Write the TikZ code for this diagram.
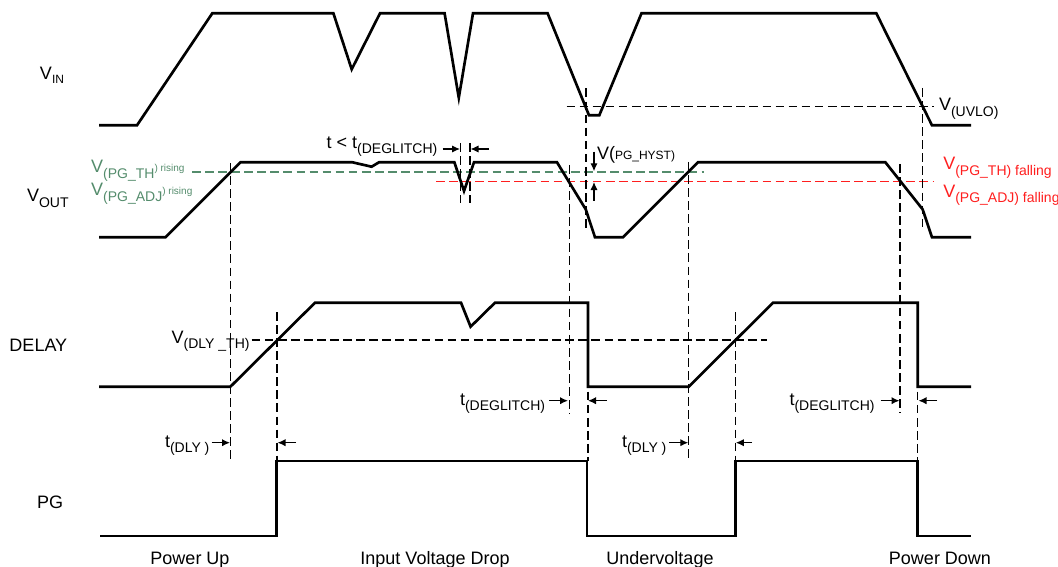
\documentclass[tikz,border=0pt]{standalone}
\usepackage{fontspec}
\setmainfont{Liberation Sans}
\usetikzlibrary{arrows.meta}
\definecolor{pggreen}{RGB}{84,140,108}
\definecolor{pgred}{RGB}{255,30,30}
\newcommand{\mainsz}{\fontsize{13.5}{16}\selectfont}
\newcommand{\subsz}{\fontsize{10.5}{12}\selectfont}
\newcommand{\tinysz}{\fontsize{7.5}{9}\selectfont}
\newcommand{\mysub}[1]{\raisebox{-4pt}{\subsz #1}}
\begin{document}
\begin{tikzpicture}[x=0.75pt,y=-0.75pt,
  wave/.style={line width=2pt,line join=miter,line cap=butt},
  dline/.style={line width=1pt,dash pattern=on 6.5pt off 3.3pt},
  arr/.style={line width=1pt,-{Latex[length=6pt,width=5.5pt]}},
  lbl/.style={inner sep=0pt,outer sep=0pt,anchor=base west,font=\mainsz},
  clbl/.style={inner sep=0pt,outer sep=0pt,anchor=base,font=\mainsz}]
\useasboundingbox (0,0) rectangle (1058,567);
% ---------- dashed reference lines ----------
\draw[dline] (566.5,106.7) -- (934,106.7);
\draw[dline,pggreen] (192,172) -- (704,172);
\draw[dline,pgred] (436,181.3) -- (934,181.3);
\draw[dline] (251.7,340) -- (766.5,340);
% vertical
\draw[dline] (230.4,163) -- (230.4,461.7);
\draw[dline] (277,312) -- (277,461);
\draw[dline] (460.7,143) -- (460.7,203);
\draw[dline] (470,143) -- (470,203);
\draw[dline] (569.5,165) -- (569.5,414);
\draw[dline] (586,88.5) -- (586,231);
\draw[dline] (588,391.7) -- (588,461);
\draw[dline] (688.8,162) -- (688.8,461.7);
\draw[dline] (735.4,312) -- (735.4,461);
\draw[dline] (900,164) -- (900,413);
\draw[dline] (917.8,391.7) -- (917.8,461);
\draw[dline] (922.6,88) -- (922.6,231);
% ---------- waveforms ----------
\draw[wave] (99,125.3) -- (137,125.3) -- (212.3,13.3) -- (333.4,13.3) -- (351.7,69.3) -- (380,13.3) -- (444.6,13.3) -- (458.8,97.7) -- (473,13.3) -- (547.6,13.3) -- (589,115.3) -- (599.3,115.3) -- (641.5,13.3) -- (876.3,13.3) -- (932,125.3) -- (971,125.3);
\draw[wave] (99,237.3) -- (165.5,237.3) -- (240.5,162.3) -- (352.4,162.3) -- (371.6,166.7) -- (379,162.3) -- (454.4,162.3) -- (464,191) -- (474,162.3) -- (557,162.3) -- (585.7,209.3) -- (595,237.3) -- (623,237.3) -- (698,162.3) -- (885.4,162.3) -- (922.6,209.3) -- (932,237.3) -- (971,237.3);
\draw[wave] (99,386.7) -- (230.4,386.7) -- (315,302.7) -- (461,302.7) -- (470.6,326.7) -- (495,302.7) -- (588,302.7) -- (588,386.7) -- (688.8,386.7) -- (773,302.7) -- (917.8,302.7) -- (917.8,386.7) -- (971,386.7);
\draw[wave] (100,536) -- (276.7,536) -- (276.7,461) -- (587,461) -- (587,536) -- (735.5,536) -- (735.5,461) -- (917.7,461) -- (917.7,536) -- (971,536);
% ---------- arrows ----------
\draw[arr] (442.6,149) -- (460,149);
\draw[arr] (489,149) -- (470.5,149);
\draw[arr] (549,400.7) -- (568,400.7);
\draw[arr] (606.7,400.7) -- (588,400.7);
\draw[arr] (880.7,400.7) -- (899.5,400.7);
\draw[arr] (937,400.7) -- (918.5,400.7);
\draw[arr] (211.7,442.7) -- (230,442.7);
\draw[arr] (296,442.7) -- (277.5,442.7);
\draw[arr] (669,442.7) -- (688.3,442.7);
\draw[arr] (752,442.7) -- (735.8,442.7);
\draw[arr] (594,151.7) -- (594,171.3);
\draw[arr] (594,200.7) -- (594,182);
% ---------- labels ----------
\node[lbl] (vin) at (40,80) {V\raisebox{-2.5pt}{\fontsize{9}{10}\selectfont IN}};
\node[lbl] (vout) at (27,201.7) {V\mysub{OUT}};
\node[lbl] (delay) at (9.5,351) {DELAY};
\node[lbl] (pg) at (37,508.3) {PG};
\node[clbl] (pu) at (190,564) {Power Up};
\node[clbl] (ivd) at (435,564) {Input Voltage Drop};
\node[clbl] (uv) at (660,564) {Undervoltage};
\node[clbl] (pd) at (940,564) {Power Down};
\node[lbl] (uvlo) at (939,110.7) {V\mysub{(UVLO)}};
\node[lbl] (hyst) at (597,160) {V({\fontsize{9}{10}\selectfont PG\_HYST)}};
\node[lbl] (tlt) at (326.7,148.3) {t < t\mysub{(DEGLITCH)}};
\node[lbl] (tdg1) at (460,405) {t\mysub{(DEGLITCH)}};
\node[lbl] (tdg2) at (789.5,405) {t\mysub{(DEGLITCH)}};
\node[lbl] (tdly1) at (165,447) {t\mysub{(DLY )}};
\node[lbl] (tdly2) at (622,447) {t\mysub{(DLY )}};
\node[lbl] (vdly) at (171.7,343.3) {V\mysub{(DLY \_TH)}};
\node[lbl,text=pggreen] (gth) at (91.2,172.7) {V\mysub{(PG\_TH}\raisebox{1pt}{\tinysz ) rising}};
\node[lbl,text=pggreen] (gadj) at (91.2,195.7) {V\mysub{(PG\_ADJ}\raisebox{1pt}{\tinysz ) rising}};
\node[lbl,text=pgred] (rth) at (943.3,170) {V\mysub{(PG\_TH) falling}};
\node[lbl,text=pgred] (radj) at (943.3,197) {V\mysub{(PG\_ADJ) falling}};
\end{tikzpicture}
\end{document}
